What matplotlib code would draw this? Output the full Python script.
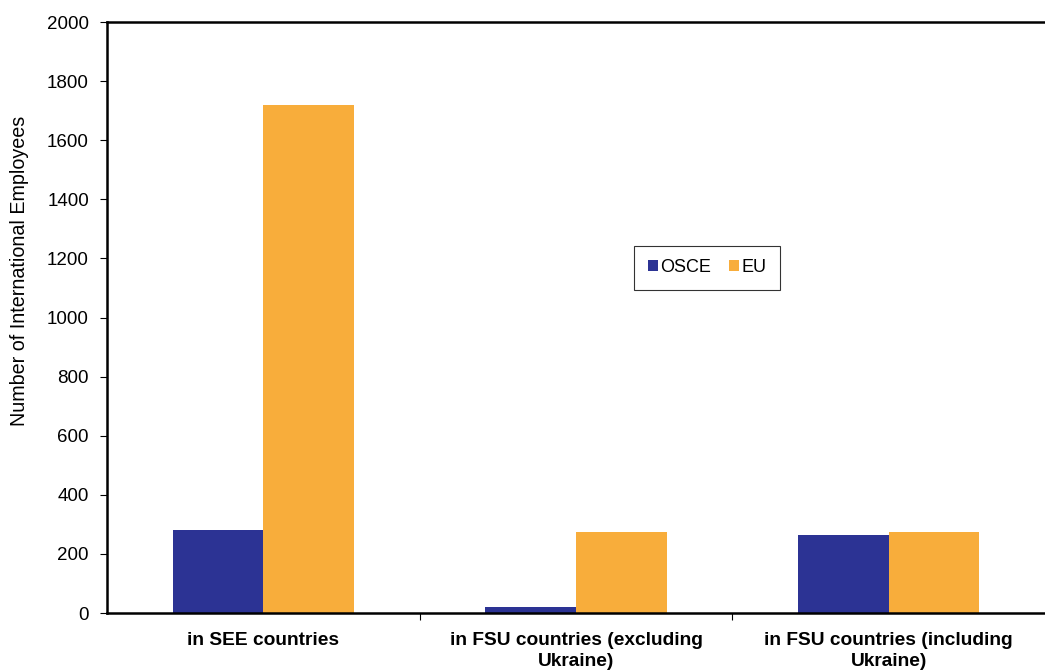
import numpy as np
import matplotlib.pyplot as plt
from matplotlib.ticker import MultipleLocator, FixedLocator

categories = ["in SEE countries",
              "in FSU countries (excluding\nUkraine)",
              "in FSU countries (including\nUkraine)"]
osce = [282, 20, 265]
eu = [1720, 275, 275]

col_osce = "#2C3394"
col_eu = "#F8AD3B"

plt.rcParams['font.family'] = ['Liberation Sans', 'DejaVu Sans']

fig = plt.figure(figsize=(10.45, 6.71), dpi=100)
ax = fig.add_axes([0.1024, 0.0864, 0.8976, 0.8806])

x = np.arange(len(categories))
w = 0.29
ax.bar(x + 0.5 - w / 2, osce, width=w, color=col_osce, label="OSCE")
ax.bar(x + 0.5 + w / 2, eu, width=w, color=col_eu, label="EU")

ax.set_xlim(0, 3)
ax.set_ylim(0, 2000)
ax.yaxis.set_major_locator(MultipleLocator(200))
ax.set_xticks(x + 0.5)
ax.set_xticklabels(categories, fontsize=13.8, fontweight='bold', linespacing=1.25)
ax.xaxis.set_minor_locator(FixedLocator([1, 2]))
ax.tick_params(axis='x', which='major', length=0, pad=14)
ax.tick_params(axis='x', which='minor', length=5, width=0.8, direction='out')
ax.tick_params(axis='y', length=5, width=0.8, direction='out', labelsize=13.5, pad=8)

for s in ['left', 'bottom', 'top']:
    ax.spines[s].set_linewidth(1.8)
    ax.spines[s].set_color('black')
ax.spines['right'].set_visible(False)

ax.set_ylabel("Number of International Employees", fontsize=14.2)
ax.yaxis.set_label_coords(-0.083, 0.579)

leg = ax.legend(loc='lower left', bbox_to_anchor=(0.562, 0.547), ncol=2, fontsize=13,
                frameon=True, fancybox=False, handlelength=0.55, handleheight=0.55,
                handletextpad=0.15, columnspacing=1.0, borderpad=0.75,
                borderaxespad=0)
leg.get_frame().set_edgecolor('black')
leg.get_frame().set_linewidth(0.8)

fig.savefig("out.png", dpi=100)
